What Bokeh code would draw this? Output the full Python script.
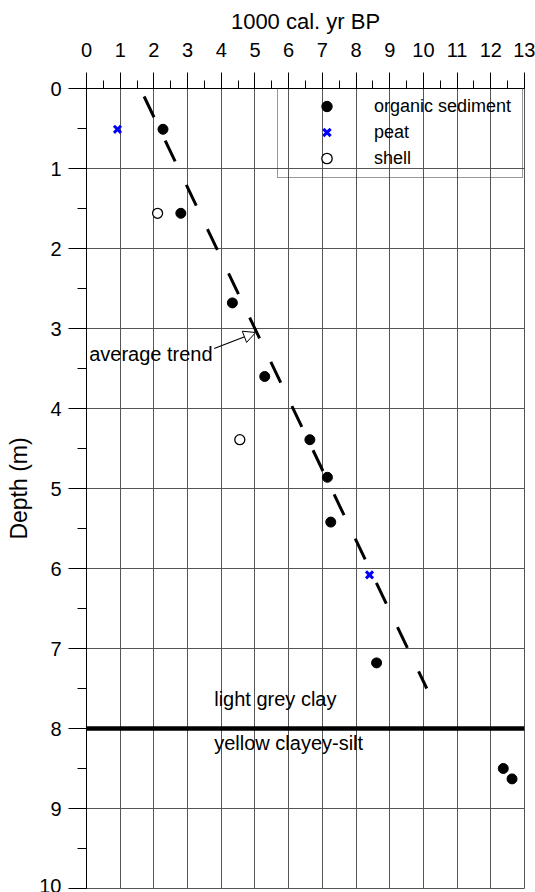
from bokeh.plotting import figure
from bokeh.models import (Range1d, SingleIntervalTicker, Legend, LegendItem, Arrow,
                          NormalHead, Span, ColumnDataSource)
from bokeh.core.properties import value
from bokeh.embed import file_html
from bokeh.resources import INLINE

FONT = "Liberation Sans"

# --- data (age in 1000 cal. yr BP, depth in m) ---
organic_age = [2.27, 2.80, 4.33, 5.29, 6.63, 7.15, 7.25, 8.61, 12.37, 12.63]
organic_depth = [0.51, 1.56, 2.68, 3.60, 4.39, 4.86, 5.42, 7.18, 8.50, 8.63]
peat_age = [0.92, 8.40]
peat_depth = [0.51, 6.08]
shell_age = [2.11, 4.55]
shell_depth = [1.56, 4.39]
trend_age = [1.71, 10.10]
trend_depth = [0.10, 7.50]
arrow_age = [3.79, 5.02]
arrow_depth = [3.25, 3.05]
boundary_depth = 8.0
label_texts = ["average trend", "light grey clay", "yellow clayey-silt"]
label_age = [0.08, 3.79, 3.79]
label_depth = [3.32, 7.63, 8.18]
age_ticks_range = (0, 13)
depth_range = (10, 0)

p = figure(width=535, height=892, output_backend="svg", toolbar_location=None,
           x_axis_location="above",
           x_range=Range1d(*age_ticks_range), y_range=Range1d(*depth_range),
           min_border_left=86, min_border_right=11, min_border_top=88, min_border_bottom=4)
p.background_fill_color = "white"
p.border_fill_color = "white"
p.outline_line_color = "#555555"

for ax in (p.xaxis[0], p.yaxis[0]):
    ax.ticker = SingleIntervalTicker(interval=1, num_minor_ticks=2)
    ax.major_tick_in = 0
    ax.minor_tick_in = 0
    ax.major_label_text_font = FONT
    ax.major_label_text_font_size = "20px"
    ax.major_label_text_color = "black"
    ax.axis_label_text_font = FONT
    ax.axis_label_text_font_style = "normal"
    ax.axis_label_text_color = "black"
    ax.axis_line_color = "black"
    ax.major_tick_line_color = "black"
    ax.minor_tick_line_color = "black"

p.xaxis.axis_label = "1000 cal. yr BP"
p.xaxis.axis_label_text_font_size = "22px"
p.xaxis.major_tick_out = 16
p.xaxis.minor_tick_out = 8
p.xaxis.major_label_standoff = 16
p.xaxis.axis_label_standoff = 6

p.yaxis.axis_label = "Depth (m)"
p.yaxis.axis_label_text_font_size = "23px"
p.yaxis.major_tick_out = 18
p.yaxis.minor_tick_out = 9
p.yaxis.major_label_standoff = 7
p.yaxis.axis_label_standoff = 4

p.xgrid.grid_line_color = "#555555"
p.ygrid.grid_line_color = "#555555"
p.xgrid.grid_line_width = 1
p.ygrid.grid_line_width = 1

# boundary line
p.add_layout(Span(location=boundary_depth, dimension="width", line_color="black", line_width=4.5))

# trend line
p.line(trend_age, trend_depth, line_color="black", line_width=3, line_dash="23 26")

# data
r_org = p.scatter(organic_age, organic_depth, marker="circle", size=10,
                  fill_color="black", line_color="black")
r_peat = p.scatter(peat_age, peat_depth, marker="x", size=10,
                   line_color="#0000ff", line_width=3)
r_shell = p.scatter(shell_age, shell_depth, marker="circle", size=10,
                    fill_color="white", line_color="black", line_width=1.3)

# arrow
p.add_layout(Arrow(end=NormalHead(size=12, fill_color="white", line_color="black", line_width=1),
                   x_start=arrow_age[0], y_start=arrow_depth[0],
                   x_end=arrow_age[1], y_end=arrow_depth[1],
                   line_color="black", line_width=1.2))

# text labels
src = ColumnDataSource(dict(x=label_age, y=label_depth, t=label_texts))
p.text("x", "y", text="t", source=src, text_font=value(FONT), text_font_size="20px",
       text_align="left", text_baseline="middle", text_color="black")

legend = Legend(items=[LegendItem(label="organic sediment", renderers=[r_org]),
                       LegendItem(label="peat", renderers=[r_peat]),
                       LegendItem(label="shell", renderers=[r_shell])],
                location=(191, 710), glyph_width=85, glyph_height=26, spacing=0,
                padding=6, margin=0, label_standoff=5, label_width=142,
                label_text_font=FONT, label_text_font_size="18px", label_text_color="black",
                border_line_color="#333333", border_line_width=1,
                background_fill_alpha=0)
p.add_layout(legend)

open("out.html", "w").write(file_html(p, INLINE))
